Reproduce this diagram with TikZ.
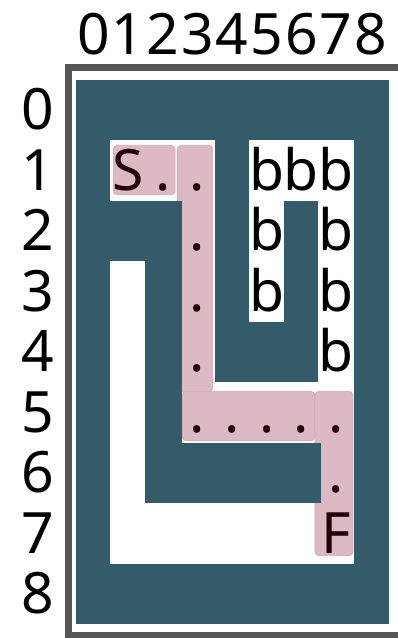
\documentclass[tikz,border=0pt]{standalone}
\usepackage{fontspec}
\setmainfont{Noto Sans}
\definecolor{mazewall}{HTML}{345B6A}
\definecolor{trailpink}{HTML}{DCB9C3}
\definecolor{trailedge}{HTML}{D2A8B5}
\definecolor{trailink}{HTML}{21000C}
\definecolor{framegray}{HTML}{555555}
\newcommand\cellfont{\fontsize{57}{60}\selectfont}
\tikzset{
  wall/.style={fill=mazewall},
  floor/.style={fill=white},
  trail/.style={fill=trailpink, draw=trailedge, line width=0.6pt, rounded corners=4pt},
  glyph/.style={inner sep=0pt, anchor=base, font=\cellfont},
}
\begin{document}
\begin{tikzpicture}[x=34.667pt, y=-60.444pt]
\useasboundingbox (-76pt,80pt) rectangle (322pt,-558pt);

% outer frame
\draw[framegray, line width=7pt] (-7.5pt,12.5pt) rectangle (329pt,-555pt);

% maze: walls everywhere, then the open cells
\fill[wall] (0,0) rectangle (9.03,9);
\foreach \c/\r in {1/1,2/1,3/1,5/1,6/1,7/1,
                   3/2,5/2,7/2,
                   1/3,3/3,5/3,7/3,
                   1/4,3/4,7/4,
                   1/5,3/5,4/5,5/5,6/5,7/5,
                   1/6,7/6,
                   1/7,2/7,3/7,4/7,5/7,6/7,7/7}
  \fill[floor] (\c-0.005,\r-0.005) rectangle (\c+1.005,\r+1.005);

% path from S to F
\draw[trail] (1.07,1.08) rectangle (2.86,1.90);
\draw[trail] (2.92,1.08) rectangle (3.95,5.16);
\draw[trail] (3.06,5.15) rectangle (6.89,5.97);
\draw[trail] (6.89,5.15) rectangle (7.99,7.87);

% walls lying over the path edges
\fill[wall] (2,2) rectangle (3.06,6);
\fill[wall] (2,6) rectangle (7.08,7);

% cell contents
\foreach \c/\r/\ch/\col in {1/1/S/trailink,2/1/./trailink,3/1/./trailink,
                            5/1/b/black,6/1/b/black,7/1/b/black,
                            3/2/./trailink,5/2/b/black,7/2/b/black,
                            3/3/./trailink,5/3/b/black,7/3/b/black,
                            3/4/./trailink,7/4/b/black,
                            3/5/./trailink,4/5/./trailink,5/5/./trailink,
                            6/5/./trailink,7/5/./trailink,
                            7/6/./trailink,
                            7/7/F/trailink}
  \node[glyph, text=\col] (cell-\c-\r) at (\c+0.5,\r+0.827) {\ch};

% column and row numbers
\foreach \i in {0,...,8} {
  \node[glyph] (col-\i) at (\i+0.5,-0.43) {\i};
  \node[glyph] (row-\i) at (-1.096,\i+0.827) {\i};
}
\end{tikzpicture}
\end{document}
